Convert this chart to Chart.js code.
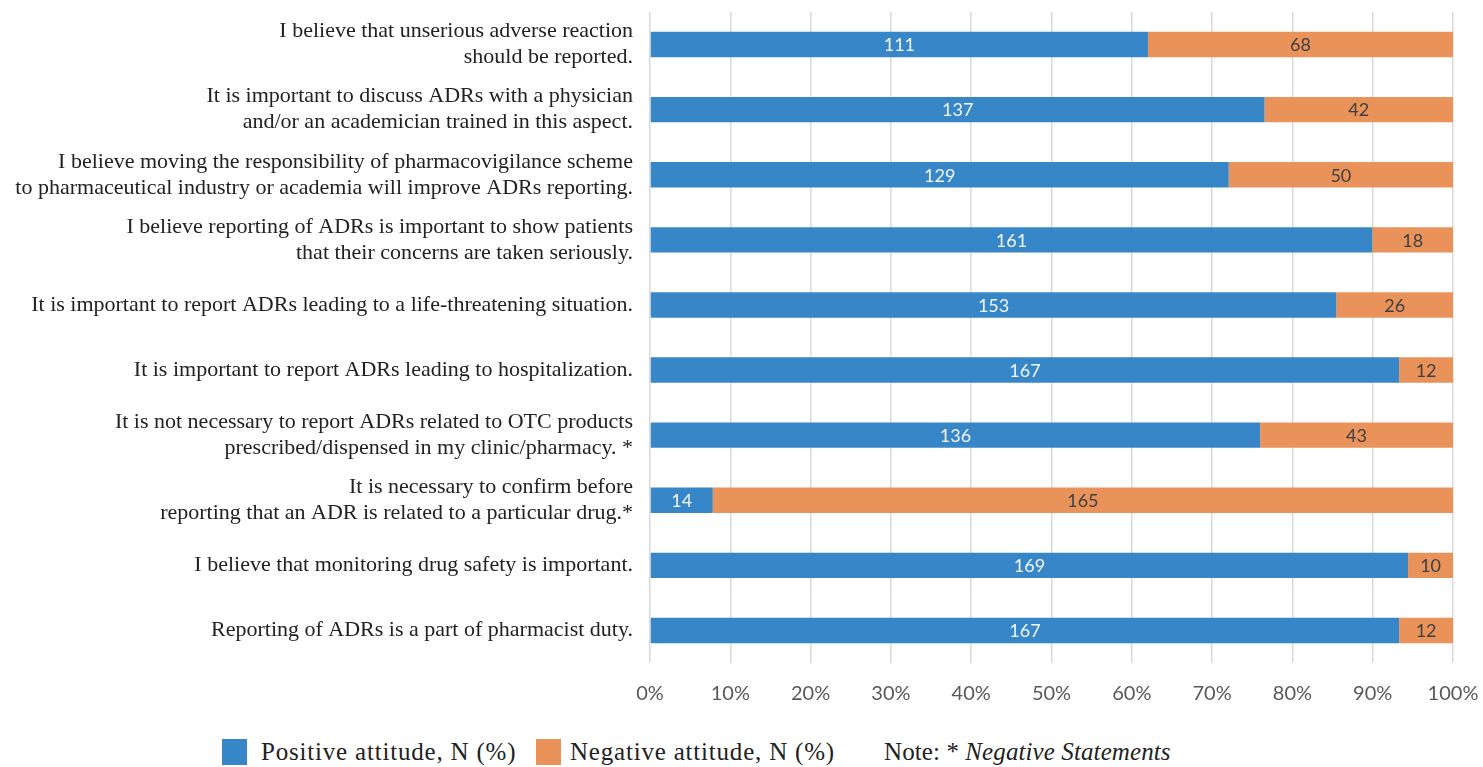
<!DOCTYPE html>
<html>
<head>
<meta charset="utf-8">
<script src="https://cdn.jsdelivr.net/npm/chart.js@4/dist/chart.umd.min.js"></script>
<style>
  body { margin: 0; background: #fff; }
  #wrap { position: relative; width: 1483px; height: 767px; }
  .lg { position: absolute; font-family: "Liberation Serif", serif; font-size: 25px; letter-spacing: 0.8px; color: #222; white-space: nowrap; line-height: 28px; top: 738px; }
  .box { position: absolute; width: 25px; height: 26px; top: 739px; }
</style>
</head>
<body>
<div id="wrap">
  <canvas id="chart" width="1483" height="720"></canvas>
  <div class="box" style="left:222px;background:#3787C8"></div>
  <div class="lg" style="left:261px">Positive attitude, N (%)</div>
  <div class="box" style="left:536px;background:#E9935A"></div>
  <div class="lg" style="left:570px">Negative attitude, N (%)</div>
  <div class="lg" style="left:884px;letter-spacing:0.1px">Note: * <i>Negative Statements</i></div>
</div>
<script>
  const statements = [
    ["I believe that unserious adverse reaction", "should be reported."],
    ["It is important to discuss ADRs with a physician", "and/or an academician trained in this aspect."],
    ["I believe moving the responsibility of pharmacovigilance scheme", "to pharmaceutical industry or academia will improve ADRs reporting."],
    ["I believe reporting of ADRs is important to show patients", "that their concerns are taken seriously."],
    "It is important to report ADRs leading to a life-threatening situation.",
    "It is important to report ADRs leading to hospitalization.",
    ["It is not necessary to report ADRs related to OTC products", "prescribed/dispensed in my clinic/pharmacy. *"],
    ["It is necessary to confirm before", "reporting that an ADR is related to a particular drug.*"],
    "I believe that monitoring drug safety is important.",
    "Reporting of ADRs is a part of pharmacist duty."
  ];
  const positive = [111, 137, 129, 161, 153, 167, 136, 14, 169, 167];
  const negative = [68, 42, 50, 18, 26, 12, 43, 165, 10, 12];

  // 100% stacked: turn counts into shares of each row
  const pct = (arr) => arr.map((v, i) => v / (positive[i] + negative[i]) * 100);
  const counts = [positive, negative];

  const barLabels = {
    id: "barLabels",
    afterDatasetsDraw(chart) {
      const ctx = chart.ctx;
      ctx.save();
      ctx.font = "18px Lato, sans-serif";
      ctx.textAlign = "center";
      ctx.textBaseline = "middle";
      chart.data.datasets.forEach((ds, di) => {
        ctx.fillStyle = di === 0 ? "#F4F4F4" : "#404040";
        chart.getDatasetMeta(di).data.forEach((bar, i) => {
          const x = (bar.x + bar.base) / 2;
          ctx.fillText(counts[di][i], x, bar.y + 1);
        });
      });
      ctx.restore();
    }
  };

  new Chart(document.getElementById("chart"), {
    type: "bar",
    data: {
      labels: statements,
      datasets: [
        { label: "Positive attitude, N (%)", data: pct(positive), backgroundColor: "#3787C8" },
        { label: "Negative attitude, N (%)", data: pct(negative), backgroundColor: "#E9935A" }
      ]
    },
    options: {
      indexAxis: "y",
      responsive: false,
      animation: false,
      layout: { padding: { top: 12, right: 30 } },
      categoryPercentage: 1,
      barPercentage: 0.39,
      plugins: { legend: { display: false }, tooltip: { enabled: false } },
      scales: {
        x: {
          stacked: true,
          min: 0,
          max: 100,
          ticks: {
            stepSize: 10,
            padding: 19,
            color: "#595959",
            font: { family: "Lato, sans-serif", size: 20 },
            callback: (v) => v + "%"
          },
          grid: { color: "#D9D9D9", lineWidth: 1.5, drawTicks: false },
          border: { display: false },
          afterFit: (s) => { s.height = 57; s.paddingLeft = 0; s.paddingRight = 0; }
        },
        y: {
          stacked: true,
          ticks: {
            padding: 9,
            color: "#222",
            font: { family: "'Liberation Serif', serif", size: 22, lineHeight: 1.18 }
          },
          grid: { display: false },
          border: { display: false },
          afterFit: (s) => { s.width = 650; s.paddingTop = 0; s.paddingBottom = 0; }
        }
      }
    },
    plugins: [barLabels]
  });
</script>
</body>
</html>
